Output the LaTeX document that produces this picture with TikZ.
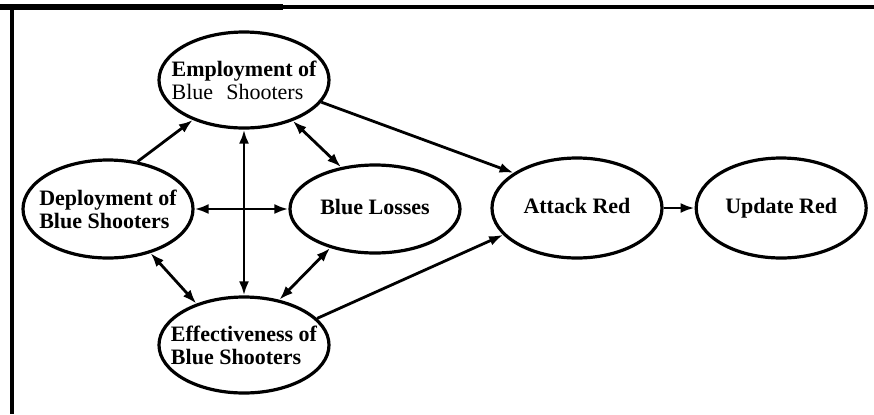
\documentclass[tikz,border=0pt]{standalone}
\usepackage{fontspec}
\setmainfont{Liberation Serif}
\usetikzlibrary{shapes,arrows.meta,positioning}

\begin{document}
\begin{tikzpicture}[x=0.5pt, y=-0.5pt,
    bubble/.style={draw, ellipse, line width=1.6pt, minimum width=85pt, minimum height=48pt,
      inner xsep=-12pt, inner ysep=0pt, align=left, font=\fontsize{11}{11.5}\selectfont\bfseries},
    oneline/.style={text height=7.5pt, text depth=2.5pt},
    flow/.style={line width=1.4pt, -{Latex[length=7pt,width=5pt]}},
    both/.style={flow, {Latex[length=7pt,width=5pt]}-{Latex[length=7pt,width=5pt]}}]
    \useasboundingbox (0,0) rectangle (874,414);

    % frame
    \draw[line width=2.6pt] (0,7) -- (283,7);
    \draw[line width=1.7pt] (283,7) -- (874,7);
    \draw[line width=2pt] (12,7) -- (12,414);

    % blue side
    \node[bubble] (employ) at (244,80) {Employment of\\ \mdseries Blue\hspace{0.6em}Shooters};
    \node[bubble, minimum height=49pt] (deploy) at (108,209) {Deployment of\\Blue Shooters};
    \node[bubble, oneline, minimum height=44pt] (losses) at (375,209) {Blue Losses};
    \node[bubble] (effect) at (244,345) {Effectiveness of\\Blue Shooters};

    % red side
    \node[bubble, oneline, minimum height=50pt] (attack) at (577,208) {Attack Red};
    \node[bubble, oneline, minimum height=50pt, right=15.5pt of attack] (update) {Update Red};

    % links
    \draw[flow] (deploy.58) -- (employ.218);
    \draw[both] (deploy.east) -- (losses.west);
    \draw[both] (employ.south) -- (effect.north);
    \draw[both] (employ.320) -- (losses.129);
    \draw[both] (deploy.314) -- (effect.139);
    \draw[both] (losses.221) -- (effect.52);
    \draw[flow] (employ.344) -- (attack.151);
    \draw[flow] (effect.20) -- (attack.200);
    \draw[flow] (attack) -- (update);
  \end{tikzpicture}
\end{document}
